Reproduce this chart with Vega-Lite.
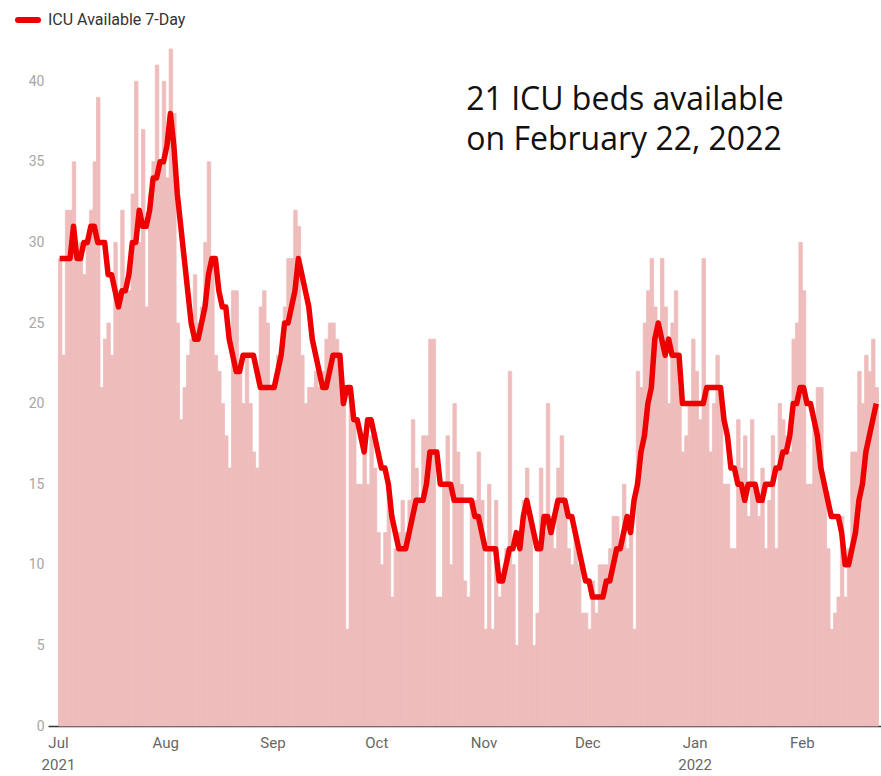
{
  "$schema": "https://vega.github.io/schema/vega-lite/v6.json",
  "width": 833,
  "height": 677,
  "autosize": "none",
  "padding": {"left": 48, "top": 49, "right": 0, "bottom": 50},
  "background": "white",
  "config": {"view": {"stroke": null}, "font": "Roboto"},
  "datasets": {
    "icu": [
      {"date":"2021-07-01","beds":29,"avg":29},{"date":"2021-07-02","beds":23,"avg":29},{"date":"2021-07-03","beds":32,"avg":29},{"date":"2021-07-04","beds":32,"avg":29},{"date":"2021-07-05","beds":35,"avg":31},{"date":"2021-07-06","beds":29,"avg":29},{"date":"2021-07-07","beds":30,"avg":29},{"date":"2021-07-08","beds":28,"avg":30},{"date":"2021-07-09","beds":30,"avg":30},{"date":"2021-07-10","beds":32,"avg":31},{"date":"2021-07-11","beds":35,"avg":31},{"date":"2021-07-12","beds":39,"avg":30},{"date":"2021-07-13","beds":21,"avg":30},{"date":"2021-07-14","beds":24,"avg":30},{"date":"2021-07-15","beds":25,"avg":28},{"date":"2021-07-16","beds":23,"avg":28},{"date":"2021-07-17","beds":30,"avg":27},{"date":"2021-07-18","beds":27,"avg":26},{"date":"2021-07-19","beds":32,"avg":27},{"date":"2021-07-20","beds":27,"avg":27},{"date":"2021-07-21","beds":27,"avg":28},{"date":"2021-07-22","beds":33,"avg":30},{"date":"2021-07-23","beds":40,"avg":30},{"date":"2021-07-24","beds":30,"avg":32},{"date":"2021-07-25","beds":37,"avg":31},{"date":"2021-07-26","beds":26,"avg":31},{"date":"2021-07-27","beds":33,"avg":32},{"date":"2021-07-28","beds":35,"avg":34},{"date":"2021-07-29","beds":41,"avg":34},{"date":"2021-07-30","beds":35,"avg":35},{"date":"2021-07-31","beds":40,"avg":35},
      {"date":"2021-08-01","beds":34,"avg":36},{"date":"2021-08-02","beds":42,"avg":38},{"date":"2021-08-03","beds":38,"avg":36},{"date":"2021-08-04","beds":25,"avg":33},{"date":"2021-08-05","beds":19,"avg":31},{"date":"2021-08-06","beds":21,"avg":29},{"date":"2021-08-07","beds":23,"avg":27},{"date":"2021-08-08","beds":24,"avg":25},{"date":"2021-08-09","beds":28,"avg":24},{"date":"2021-08-10","beds":25,"avg":24},{"date":"2021-08-11","beds":26,"avg":25},{"date":"2021-08-12","beds":30,"avg":26},{"date":"2021-08-13","beds":35,"avg":28},{"date":"2021-08-14","beds":29,"avg":29},{"date":"2021-08-15","beds":23,"avg":29},{"date":"2021-08-16","beds":22,"avg":27},{"date":"2021-08-17","beds":20,"avg":26},{"date":"2021-08-18","beds":18,"avg":26},{"date":"2021-08-19","beds":16,"avg":24},{"date":"2021-08-20","beds":27,"avg":23},{"date":"2021-08-21","beds":27,"avg":22},{"date":"2021-08-22","beds":22,"avg":22},{"date":"2021-08-23","beds":20,"avg":23},{"date":"2021-08-24","beds":23,"avg":23},{"date":"2021-08-25","beds":20,"avg":23},{"date":"2021-08-26","beds":17,"avg":23},{"date":"2021-08-27","beds":16,"avg":22},{"date":"2021-08-28","beds":26,"avg":21},{"date":"2021-08-29","beds":27,"avg":21},{"date":"2021-08-30","beds":25,"avg":21},{"date":"2021-08-31","beds":21,"avg":21},
      {"date":"2021-09-01","beds":21,"avg":21},{"date":"2021-09-02","beds":23,"avg":22},{"date":"2021-09-03","beds":23,"avg":23},{"date":"2021-09-04","beds":26,"avg":25},{"date":"2021-09-05","beds":29,"avg":25},{"date":"2021-09-06","beds":29,"avg":26},{"date":"2021-09-07","beds":32,"avg":27},{"date":"2021-09-08","beds":31,"avg":29},{"date":"2021-09-09","beds":23,"avg":28},{"date":"2021-09-10","beds":20,"avg":27},{"date":"2021-09-11","beds":21,"avg":26},{"date":"2021-09-12","beds":21,"avg":24},{"date":"2021-09-13","beds":22,"avg":23},{"date":"2021-09-14","beds":21,"avg":22},{"date":"2021-09-15","beds":22,"avg":21},{"date":"2021-09-16","beds":24,"avg":21},{"date":"2021-09-17","beds":25,"avg":22},{"date":"2021-09-18","beds":25,"avg":23},{"date":"2021-09-19","beds":24,"avg":23},{"date":"2021-09-20","beds":22,"avg":23},{"date":"2021-09-21","beds":21,"avg":20},{"date":"2021-09-22","beds":6,"avg":21},{"date":"2021-09-23","beds":21,"avg":21},{"date":"2021-09-24","beds":19,"avg":19},{"date":"2021-09-25","beds":15,"avg":19},{"date":"2021-09-26","beds":15,"avg":18},{"date":"2021-09-27","beds":18,"avg":17},{"date":"2021-09-28","beds":15,"avg":19},{"date":"2021-09-29","beds":18,"avg":19},{"date":"2021-09-30","beds":16,"avg":18},
      {"date":"2021-10-01","beds":12,"avg":17},{"date":"2021-10-02","beds":10,"avg":16},{"date":"2021-10-03","beds":12,"avg":16},{"date":"2021-10-04","beds":15,"avg":15},{"date":"2021-10-05","beds":8,"avg":13},{"date":"2021-10-06","beds":11,"avg":12},{"date":"2021-10-07","beds":12,"avg":11},{"date":"2021-10-08","beds":14,"avg":11},{"date":"2021-10-09","beds":12,"avg":11},{"date":"2021-10-10","beds":14,"avg":12},{"date":"2021-10-11","beds":19,"avg":13},{"date":"2021-10-12","beds":16,"avg":14},{"date":"2021-10-13","beds":14,"avg":14},{"date":"2021-10-14","beds":18,"avg":14},{"date":"2021-10-15","beds":18,"avg":15},{"date":"2021-10-16","beds":24,"avg":17},{"date":"2021-10-17","beds":24,"avg":17},{"date":"2021-10-18","beds":8,"avg":17},{"date":"2021-10-19","beds":8,"avg":15},{"date":"2021-10-20","beds":15,"avg":15},{"date":"2021-10-21","beds":18,"avg":15},{"date":"2021-10-22","beds":10,"avg":15},{"date":"2021-10-23","beds":20,"avg":14},{"date":"2021-10-24","beds":17,"avg":14},{"date":"2021-10-25","beds":15,"avg":14},{"date":"2021-10-26","beds":9,"avg":14},{"date":"2021-10-27","beds":8,"avg":14},{"date":"2021-10-28","beds":14,"avg":14},{"date":"2021-10-29","beds":14,"avg":13},{"date":"2021-10-30","beds":17,"avg":13},{"date":"2021-10-31","beds":14,"avg":12},
      {"date":"2021-11-01","beds":6,"avg":11},{"date":"2021-11-02","beds":15,"avg":11},{"date":"2021-11-03","beds":6,"avg":11},{"date":"2021-11-04","beds":14,"avg":11},{"date":"2021-11-05","beds":8,"avg":9},{"date":"2021-11-06","beds":9,"avg":9},{"date":"2021-11-07","beds":11,"avg":10},{"date":"2021-11-08","beds":22,"avg":11},{"date":"2021-11-09","beds":10,"avg":11},{"date":"2021-11-10","beds":5,"avg":12},{"date":"2021-11-11","beds":12,"avg":11},{"date":"2021-11-12","beds":14,"avg":13},{"date":"2021-11-13","beds":16,"avg":14},{"date":"2021-11-14","beds":13,"avg":13},{"date":"2021-11-15","beds":5,"avg":12},{"date":"2021-11-16","beds":7,"avg":11},{"date":"2021-11-17","beds":16,"avg":11},{"date":"2021-11-18","beds":12,"avg":13},{"date":"2021-11-19","beds":20,"avg":13},{"date":"2021-11-20","beds":13,"avg":12},{"date":"2021-11-21","beds":11,"avg":13},{"date":"2021-11-22","beds":16,"avg":14},{"date":"2021-11-23","beds":18,"avg":14},{"date":"2021-11-24","beds":14,"avg":14},{"date":"2021-11-25","beds":11,"avg":13},{"date":"2021-11-26","beds":10,"avg":13},{"date":"2021-11-27","beds":12,"avg":12},{"date":"2021-11-28","beds":10,"avg":11},{"date":"2021-11-29","beds":7,"avg":10},{"date":"2021-11-30","beds":7,"avg":9},
      {"date":"2021-12-01","beds":6,"avg":9},{"date":"2021-12-02","beds":9,"avg":8},{"date":"2021-12-03","beds":7,"avg":8},{"date":"2021-12-04","beds":10,"avg":8},{"date":"2021-12-05","beds":10,"avg":8},{"date":"2021-12-06","beds":10,"avg":9},{"date":"2021-12-07","beds":11,"avg":9},{"date":"2021-12-08","beds":13,"avg":10},{"date":"2021-12-09","beds":13,"avg":11},{"date":"2021-12-10","beds":11,"avg":11},{"date":"2021-12-11","beds":15,"avg":12},{"date":"2021-12-12","beds":11,"avg":13},{"date":"2021-12-13","beds":13,"avg":12},{"date":"2021-12-14","beds":6,"avg":14},{"date":"2021-12-15","beds":22,"avg":15},{"date":"2021-12-16","beds":21,"avg":17},{"date":"2021-12-17","beds":25,"avg":18},{"date":"2021-12-18","beds":27,"avg":20},{"date":"2021-12-19","beds":29,"avg":21},{"date":"2021-12-20","beds":26,"avg":24},{"date":"2021-12-21","beds":25,"avg":25},{"date":"2021-12-22","beds":29,"avg":24},{"date":"2021-12-23","beds":26,"avg":23},{"date":"2021-12-24","beds":20,"avg":24},{"date":"2021-12-25","beds":25,"avg":23},{"date":"2021-12-26","beds":27,"avg":23},{"date":"2021-12-27","beds":21,"avg":23},{"date":"2021-12-28","beds":17,"avg":20},{"date":"2021-12-29","beds":18,"avg":20},{"date":"2021-12-30","beds":20,"avg":20},{"date":"2021-12-31","beds":24,"avg":20},
      {"date":"2022-01-01","beds":22,"avg":20},{"date":"2022-01-02","beds":19,"avg":20},{"date":"2022-01-03","beds":29,"avg":20},{"date":"2022-01-04","beds":21,"avg":21},{"date":"2022-01-05","beds":17,"avg":21},{"date":"2022-01-06","beds":20,"avg":21},{"date":"2022-01-07","beds":23,"avg":21},{"date":"2022-01-08","beds":21,"avg":21},{"date":"2022-01-09","beds":15,"avg":19},{"date":"2022-01-10","beds":15,"avg":18},{"date":"2022-01-11","beds":11,"avg":16},{"date":"2022-01-12","beds":11,"avg":16},{"date":"2022-01-13","beds":19,"avg":15},{"date":"2022-01-14","beds":16,"avg":15},{"date":"2022-01-15","beds":18,"avg":14},{"date":"2022-01-16","beds":13,"avg":15},{"date":"2022-01-17","beds":19,"avg":15},{"date":"2022-01-18","beds":15,"avg":15},{"date":"2022-01-19","beds":13,"avg":14},{"date":"2022-01-20","beds":16,"avg":14},{"date":"2022-01-21","beds":11,"avg":15},{"date":"2022-01-22","beds":14,"avg":15},{"date":"2022-01-23","beds":18,"avg":15},{"date":"2022-01-24","beds":11,"avg":16},{"date":"2022-01-25","beds":20,"avg":16},{"date":"2022-01-26","beds":19,"avg":17},{"date":"2022-01-27","beds":18,"avg":17},{"date":"2022-01-28","beds":17,"avg":18},{"date":"2022-01-29","beds":24,"avg":20},{"date":"2022-01-30","beds":25,"avg":20},{"date":"2022-01-31","beds":30,"avg":21},
      {"date":"2022-02-01","beds":27,"avg":21},{"date":"2022-02-02","beds":15,"avg":20},{"date":"2022-02-03","beds":15,"avg":20},{"date":"2022-02-04","beds":19,"avg":19},{"date":"2022-02-05","beds":21,"avg":18},{"date":"2022-02-06","beds":21,"avg":16},{"date":"2022-02-07","beds":15,"avg":15},{"date":"2022-02-08","beds":11,"avg":14},{"date":"2022-02-09","beds":6,"avg":13},{"date":"2022-02-10","beds":7,"avg":13},{"date":"2022-02-11","beds":8,"avg":13},{"date":"2022-02-12","beds":13,"avg":12},{"date":"2022-02-13","beds":8,"avg":10},{"date":"2022-02-14","beds":11,"avg":10},{"date":"2022-02-15","beds":17,"avg":11},{"date":"2022-02-16","beds":17,"avg":12},{"date":"2022-02-17","beds":22,"avg":14},{"date":"2022-02-18","beds":20,"avg":15},{"date":"2022-02-19","beds":23,"avg":17},{"date":"2022-02-20","beds":22,"avg":18},{"date":"2022-02-21","beds":24,"avg":19},{"date":"2022-02-22","beds":21,"avg":20}
    ],
    "note": [
      {"date": "2021-10-27", "y": 38.2, "label": ["21 ICU beds available", "on February 22, 2022"]}
    ]
  },
  "layer": [
    {
      "data": {"name": "icu"},
      "mark": {"type": "bar", "color": "#efbcbc", "stroke": "#efbcbc", "strokeWidth": 0.8, "binSpacing": 0},
      "encoding": {
        "x": {
          "field": "date", "type": "temporal", "timeUnit": "utcyearmonthdate",
          "scale": {
            "type": "utc",
            "domain": [
              {"year": 2021, "month": 6, "date": 28, "hours": 3, "utc": true},
              {"year": 2022, "month": 2, "date": 23, "hours": 21, "utc": true}
            ]
          },
          "axis": {
            "title": null,
            "values": [
              {"year": 2021, "month": 7, "date": 1, "utc": true},
              {"year": 2021, "month": 8, "date": 1, "utc": true},
              {"year": 2021, "month": 9, "date": 1, "utc": true},
              {"year": 2021, "month": 10, "date": 1, "utc": true},
              {"year": 2021, "month": 11, "date": 1, "utc": true},
              {"year": 2021, "month": 12, "date": 1, "utc": true},
              {"year": 2022, "month": 1, "date": 1, "utc": true},
              {"year": 2022, "month": 2, "date": 1, "utc": true}
            ],
            "labelExpr": "utcmonth(datum.value) == 0 || utcmonth(datum.value) == 6 ? [utcFormat(datum.value, '%b'), utcFormat(datum.value, '%Y')] : utcFormat(datum.value, '%b')",
            "ticks": false,
            "grid": false,
            "domainColor": "#333333",
            "domainWidth": 1.5,
            "labelColor": "#666666",
            "labelFont": "Roboto",
            "labelFontSize": 15,
            "labelPadding": 9,
            "labelLineHeight": 22,
            "labelFlush": false,
            "labelOverlap": false
          }
        },
        "y": {
          "field": "beds", "type": "quantitative",
          "scale": {"domain": [0, 42], "nice": false, "zero": true},
          "axis": {
            "title": null,
            "values": [0, 5, 10, 15, 20, 25, 30, 35, 40],
            "domain": false,
            "ticks": false,
            "grid": false,
            "labelColor": "#a6a6a6",
            "labelFont": "Roboto",
            "labelFontSize": 14,
            "labelPadding": 4
          }
        }
      }
    },
    {
      "data": {"name": "icu"},
      "mark": {"type": "line", "strokeWidth": 5.5, "strokeJoin": "round"},
      "encoding": {
        "x": {"field": "date", "type": "temporal", "timeUnit": "utcyearmonthdate", "bandPosition": 0.5},
        "y": {"field": "avg", "type": "quantitative"},
        "color": {
          "datum": "ICU Available 7-Day",
          "type": "nominal",
          "scale": {"range": ["#ee0000"]},
          "legend": {
            "title": null,
            "orient": "none",
            "legendX": -33,
            "legendY": -42,
            "symbolType": "stroke",
            "symbolStrokeWidth": 6,
            "symbolSize": 400,
            "labelFont": "Roboto",
            "labelFontSize": 16,
            "labelColor": "#333333",
            "labelOffset": 7,
            "padding": 0,
            "encode": {"symbols": {"update": {"strokeCap": {"value": "round"}}}}
          }
        }
      }
    },
    {
      "data": {"name": "note"},
      "mark": {"type": "text", "align": "left", "baseline": "alphabetic", "font": "Open Sans", "fontSize": 32, "lineHeight": 40, "color": "#111111"},
      "encoding": {
        "x": {"field": "date", "type": "temporal", "timeUnit": "utcyearmonthdate"},
        "y": {"field": "y", "type": "quantitative"},
        "text": {"field": "label"}
      }
    }
  ]
}
